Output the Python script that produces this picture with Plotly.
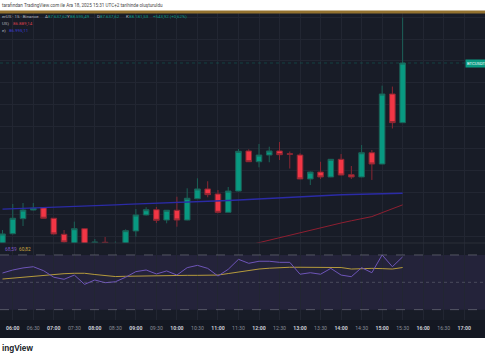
import plotly.graph_objects as go
import pandas as pd

# ---------------- data ----------------
times = ["05:45", "06:00", "06:15", "06:30", "06:45", "07:00", "07:15", "07:30", "07:45",
         "08:00", "08:15", "08:30", "08:45", "09:00", "09:15", "09:30", "09:45", "10:00",
         "10:15", "10:30", "10:45", "11:00", "11:15", "11:30", "11:45", "12:00", "12:15",
         "12:30", "12:45", "13:00", "13:15", "13:30", "13:45", "14:00", "14:15", "14:30",
         "14:45", "15:00", "15:15", "15:30"]

open_ = [86496, 86626, 86763, 86842, 86863, 86767, 86621, 86514, 86672, 86405,
         86548, 86478, 86514, 86651, 86797, 86845, 86751, 86840, 86751, 86945,
         87034, 86988, 86821, 87015, 87380, 87282, 87343, 87380, 87355, 87343,
         87125, 87188, 87143, 87304, 87164, 87143, 87364, 87261, 87899, 87637.62]
high = [86660, 86897, 86906, 86906, 86865, 86769, 86660, 86736, 86678, 86578,
        86596, 86555, 86666, 86851, 86867, 86870, 86842, 86963, 87040, 87131,
        87104, 87024, 87052, 87398, 87395, 87444, 87419, 87462, 87375, 87359,
        87193, 87282, 87307, 87352, 87243, 87434, 87389, 87975, 87967, 88595.49]
low = [86460, 86619, 86696, 86838, 86765, 86619, 86532, 86478, 86460, 86368,
       86423, 86405, 86496, 86599, 86792, 86724, 86721, 86690, 86747, 86942,
       86958, 86812, 86819, 87011, 87280, 87231, 87277, 87298, 87220, 87122,
       87070, 87125, 87140, 87158, 87125, 87140, 87116, 87259, 87585, 87637.62]
close = [86624, 86767, 86842, 86858, 86767, 86624, 86551, 86672, 86505, 86551,
         86460, 86532, 86654, 86797, 86845, 86748, 86840, 86751, 86949, 87034,
         86982, 86821, 87015, 87377, 87282, 87343, 87380, 87346, 87350, 87125,
         87188, 87143, 87304, 87161, 87143, 87364, 87261, 87899, 87638, 88181.53]

ma_blue = [86850, 86853, 86856, 86859, 86862, 86866, 86870, 86874, 86878, 86882,
           86885, 86889, 86893, 86896, 86899, 86902, 86906, 86910, 86913, 86917,
           86921, 86925, 86929, 86933, 86938, 86944, 86950, 86956, 86961, 86966,
           86970, 86974, 86978, 86981, 86984, 86987, 86989, 86991, 86993, 86995.11]
ma_red = [None] * 23 + [86500, 86523, 86545, 86567, 86589, 86612, 86634, 86657, 86679,
                        86701, 86724, 86744, 86763, 86782, 86818, 86857, 86889.14]

rsi = [56.8, 59.0, 60.5, 61.4, 58.5, 53.7, 52.2, 55.3, 48.5, 51.7,
       49.7, 50.4, 53.7, 57.8, 59.0, 56.1, 58.3, 55.3, 60.7, 62.4,
       60.2, 54.6, 59.5, 66.8, 63.9, 65.4, 65.4, 64.6, 64.6, 55.9,
       57.0, 55.9, 60.2, 55.3, 54.1, 60.7, 57.0, 70.0, 61.4, 68.59]
rsi_ma = [52.4, 53.1, 53.9, 54.6, 55.3, 56.1, 56.3, 56.6, 56.6, 55.7,
          54.8, 54.2, 54.4, 54.6, 54.8, 54.8, 55.0, 55.0, 55.1, 55.1,
          55.2, 55.3, 56.4, 57.5, 58.8, 59.7, 60.3, 60.9, 61.0, 61.0,
          61.0, 61.0, 61.0, 60.8, 59.7, 60.0, 60.2, 60.0, 59.7, 60.82]

tick_labels = ["06:00", "06:30", "07:00", "07:30", "08:00", "08:30", "09:00", "09:30",
               "10:00", "10:30", "11:00", "11:30", "12:00", "12:30", "13:00", "13:30",
               "14:00", "14:30", "15:00", "15:30", "16:00", "16:30", "17:00", "17:30"]

DAY = "2025-12-18 "
x = pd.to_datetime([DAY + t for t in times])
tickvals = pd.to_datetime([DAY + t for t in tick_labels])
ticktext = [("<span style='color:#c9ccd4'><b>%s</b></span>" % t) if t.endswith(":00")
            else ("<span style='color:#8a8e99'>%s</span>" % t) for t in tick_labels]

W, H = 485, 360
def py(p):
    return 1 - p / H
def px(p):
    return p / W

BG = "#181c27"
GRID = "#222632"
GREEN = "#089981"
RED = "#f23645"
FONT = "Roboto"

fig = go.Figure()

fig.add_trace(go.Candlestick(
    x=x, open=open_, high=high, low=low, close=close,
    increasing=dict(line=dict(color="#1b6157", width=1), fillcolor=GREEN),
    decreasing=dict(line=dict(color="#8a2733", width=1), fillcolor=RED),
    whiskerwidth=0, xaxis="x", yaxis="y", hoverinfo="skip", showlegend=False))

fig.add_trace(go.Scatter(x=x, y=ma_blue, mode="lines", line=dict(color="#2b2ba6", width=1.4),
                         xaxis="x", yaxis="y", hoverinfo="skip", showlegend=False))
fig.add_trace(go.Scatter(x=x, y=ma_red, mode="lines", line=dict(color="#8e1f31", width=1),
                         xaxis="x", yaxis="y", hoverinfo="skip", showlegend=False))

fig.add_trace(go.Scatter(x=x, y=rsi_ma, mode="lines", line=dict(color="#b59a3c", width=1),
                         xaxis="x2", yaxis="y2", hoverinfo="skip", showlegend=False))
fig.add_trace(go.Scatter(x=x, y=rsi, mode="lines", line=dict(color="#6e55b8", width=1),
                         xaxis="x2", yaxis="y2", hoverinfo="skip", showlegend=False))

xrange = ["2025-12-18 05:41:20", "2025-12-18 17:30:25"]

shapes = [
    dict(type="rect", xref="paper", yref="paper", x0=0, x1=1, y0=py(338), y1=py(13),
         fillcolor=BG, line=dict(width=0), layer="below"),
    dict(type="rect", xref="paper", yref="paper", x0=0, x1=1, y0=py(338), y1=py(320),
         fillcolor="#141822", line=dict(width=0), layer="below"),
    dict(type="rect", xref="paper", yref="paper", x0=0, x1=1, y0=py(13.5), y1=py(10.5),
         fillcolor="#94722f", line=dict(width=0), layer="above"),
    dict(type="rect", xref="paper", yref="y2", x0=0, x1=1, y0=30, y1=70,
         fillcolor="rgba(126,87,194,0.12)", line=dict(width=0), layer="below"),
    dict(type="line", xref="paper", yref="y2", x0=0, x1=1, y0=70, y1=70,
         line=dict(color="rgba(120,123,134,0.6)", width=1, dash="dash")),
    dict(type="line", xref="paper", yref="y2", x0=0, x1=1, y0=50, y1=50,
         line=dict(color="rgba(120,123,134,0.45)", width=1, dash="dot")),
    dict(type="line", xref="paper", yref="y2", x0=0, x1=1, y0=30, y1=30,
         line=dict(color="rgba(120,123,134,0.6)", width=1, dash="dash")),
    dict(type="line", xref="paper", yref="paper", x0=0, x1=1, y0=py(243), y1=py(243),
         line=dict(color="#2a2e39", width=1)),
    dict(type="line", xref="paper", yref="y", x0=0, x1=px(465), y0=close[-1], y1=close[-1],
         line=dict(color="rgba(8,153,129,0.3)", width=1, dash="dot")),
]

def ann(xp, yp, text, color="#b2b5be", size=4.4, bold=False, bg=None, family=FONT):
    d = dict(xref="paper", yref="paper", x=px(xp), y=py(yp), text=("<b>%s</b>" % text) if bold else text,
             showarrow=False, xanchor="left", yanchor="middle",
             font=dict(family=family, size=size, color=color))
    if bg:
        d.update(bgcolor=bg, borderpad=1)
    return d

annotations = [
    ann(0, 5.5, "tarafından TradingView.com ile Ara 18, 2025 15:31 UTC+2 tarihinde oluşturuldu",
        color="#4a4a4a", size=4.6),
    ann(0, 16.7, "erUS · 15 · Binance"),
    ann(43, 16.7, "A"), ann(46.3, 16.7, "87.637,62", color=GREEN),
    ann(65.2, 16.7, "Y"), ann(68.4, 16.7, "88.595,49", color=GREEN),
    ann(95, 16.7, "D"), ann(98.4, 16.7, "87.637,62", color=GREEN),
    ann(124, 16.7, "K"), ann(127.2, 16.7, "88.181,53", color=GREEN),
    ann(150.5, 16.7, "+543,92 (+0,62%)", color=GREEN),
    ann(0, 23.7, "US)"), ann(11, 23.7, "86.889,14", color="#d8404c"),
    ann(0, 30.7, "e)"), ann(7, 30.7, "86.995,11", color="#3d3dd6"),
    ann(2.5, 249.3, "68,59", color="#7e57c2", size=4.8),
    ann(16.5, 249.3, "60,82", color="#c9a63e", size=4.8),
    ann(465, 63, "BTCUSDT", color="#ffffff", size=4.2, bg=GREEN),
    ann(0, 348.5, "ingView", color="#131722", size=8.2, bold=True, family="Liberation Sans"),
]

fig.update_layout(
    width=W, height=H,
    margin=dict(l=0, r=0, t=0, b=0),
    paper_bgcolor="#ffffff",
    plot_bgcolor=BG,
    boxgap=0.22,
    showlegend=False,
    hovermode=False,
    xaxis=dict(domain=[0, 1], anchor="y", range=xrange, type="date",
               rangeslider=dict(visible=False), showticklabels=False,
               tickvals=tickvals, showgrid=True, gridcolor=GRID, gridwidth=1,
               zeroline=False, showline=False, ticks=""),
    yaxis=dict(domain=[py(243), py(13)], anchor="x", range=[86541.5, 88637.1],
               tick0=86000, dtick=200, showgrid=True, gridcolor=GRID, gridwidth=1,
               showticklabels=False, zeroline=False, showline=False, ticks=""),
    xaxis2=dict(domain=[0, 1], anchor="y2", range=xrange, type="date",
                tickvals=tickvals, ticktext=ticktext, showgrid=True, gridcolor=GRID,
                gridwidth=1, zeroline=False, showline=False, ticks="",
                ticklabelstandoff=4, tickangle=0,
                tickfont=dict(family=FONT, size=5.2, color="#b2b5be")),
    yaxis2=dict(domain=[py(320), py(243)], anchor="x2", range=[22.42, 78.75],
                showgrid=False, showticklabels=False, zeroline=False, showline=False,
                ticks=""),
    shapes=shapes,
    annotations=annotations,
)

fig.write_html("out.html", config={"displayModeBar": False, "staticPlot": True},
               post_script="document.body.style.margin='0px';document.body.style.padding='0px';")
